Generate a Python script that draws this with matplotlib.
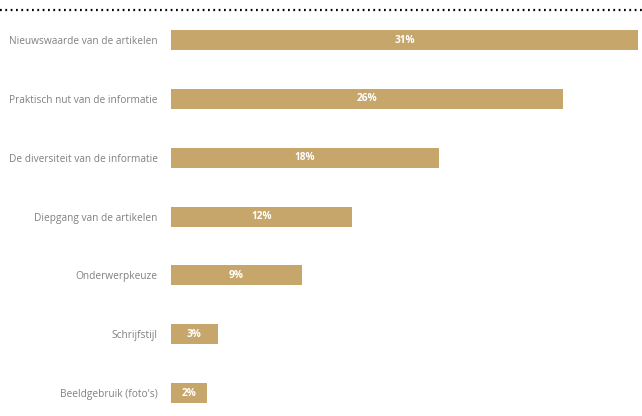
import numpy as np
import matplotlib.pyplot as plt
from matplotlib.lines import Line2D

categories = [
    "Nieuwswaarde van de artikelen",
    "Praktisch nut van de informatie",
    "De diversiteit van de informatie",
    "Diepgang van de artikelen",
    "Onderwerpkeuze",
    "Schrijfstijl",
    "Beeldgebruik (foto's)",
]
values = [31.0, 26.0, 17.8, 12.0, 8.7, 3.1, 2.4]
labels = ["31%", "26%", "18%", "12%", "9%", "3%", "2%"]

bar_color = "#c6a66b"

fig = plt.figure(figsize=(6.42, 4.16), dpi=100)
ax = fig.add_axes([171 / 642, 0, 467 / 642, 406 / 416])

y = np.arange(len(categories))
bars = ax.barh(y, values, height=0.34, color=bar_color)

for rect, lab in zip(bars, labels):
    ax.text(rect.get_width() / 2, rect.get_y() + rect.get_height() / 2, lab,
            ha="center", va="center", color="white", fontsize=7.3,
            fontweight="bold", family="Open Sans")

ax.set_xlim(0, 31)
ax.set_ylim(6.39, -0.51)
ax.set_yticks(y)
ax.set_yticklabels(categories, fontsize=7.3, color="#808080", family="Open Sans")
ax.tick_params(axis="y", length=0, pad=9.5)
ax.set_xticks([])
for s in ax.spines.values():
    s.set_visible(False)

# dotted rule across the top
fig.add_artist(Line2D([0, 1], [1 - 10 / 416, 1 - 10 / 416], transform=fig.transFigure,
                      color="black", linewidth=1.6, linestyle=(0, (0.8, 1.6))))

fig.savefig("out.png", dpi=100)
